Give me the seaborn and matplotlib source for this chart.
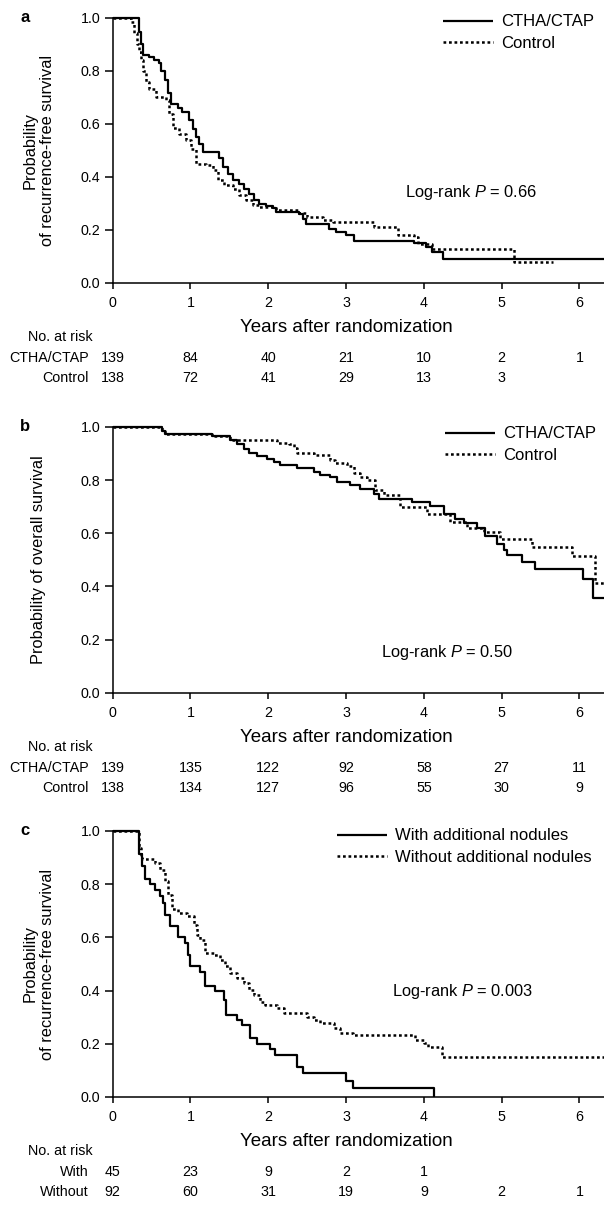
import numpy as np
import pandas as pd
import matplotlib
matplotlib.use("Agg")
import matplotlib.pyplot as plt
import seaborn as sns
from matplotlib.transforms import blended_transform_factory as btf

sns.set_theme(style="ticks", rc={"text.color": "black", "axes.labelcolor": "black",
                                 "xtick.color": "black", "ytick.color": "black",
                                 "axes.edgecolor": "black"})
plt.rcParams["font.family"] = ["Liberation Sans", "DejaVu Sans"]
plt.rcParams["mathtext.fontset"] = "custom"
plt.rcParams["mathtext.rm"] = "Liberation Sans"
plt.rcParams["mathtext.it"] = "Liberation Sans:italic"

# ---------------- data ----------------
years = [0, 1, 2, 3, 4, 5, 6]
yticks = [0.0, 0.2, 0.4, 0.6, 0.8, 1.0]

# panel a: recurrence-free survival
a_ctha_t = [0, 0.334, 0.364, 0.386, 0.471, 0.536, 0.591, 0.621, 0.673, 0.707, 0.75, 0.835, 0.891,
            0.977, 1.028, 1.071, 1.114, 1.165, 1.362, 1.414, 1.478, 1.542, 1.628, 1.692, 1.748,
            1.821, 1.877, 1.971, 2.057, 2.099, 2.399, 2.442, 2.485, 2.785, 2.871, 2.999, 3.106,
            3.878, 4.03, 4.11, 4.24, 6.32]
a_ctha_s = [1.0, 0.946, 0.90, 0.858, 0.85, 0.84, 0.827, 0.80, 0.764, 0.714, 0.676, 0.661, 0.645,
            0.613, 0.58, 0.55, 0.525, 0.494, 0.469, 0.437, 0.412, 0.387, 0.374, 0.355, 0.337,
            0.314, 0.299, 0.29, 0.283, 0.268, 0.261, 0.242, 0.224, 0.205, 0.192, 0.18, 0.16,
            0.151, 0.136, 0.117, 0.092, 0.092]
a_ctrl_t = [0, 0.236, 0.278, 0.308, 0.334, 0.364, 0.386, 0.428, 0.471, 0.557, 0.686, 0.728, 0.771,
            0.857, 0.943, 1.007, 1.071, 1.2, 1.285, 1.35, 1.435, 1.542, 1.628, 1.714, 1.8, 1.885,
            2.1, 2.4, 2.5, 2.7, 2.83, 3.364, 3.664, 3.878, 3.92, 4.11, 5.163, 5.655]
a_ctrl_s = [1.0, 0.984, 0.94, 0.902, 0.871, 0.84, 0.80, 0.758, 0.732, 0.70, 0.688, 0.638, 0.582,
            0.563, 0.538, 0.506, 0.45, 0.443, 0.425, 0.387, 0.368, 0.355, 0.33, 0.312, 0.293, 0.288,
            0.275, 0.262, 0.249, 0.236, 0.228, 0.211, 0.18, 0.173, 0.148, 0.129, 0.079, 0.079]

# panel b: overall survival
b_ctha_t = [0, 0.634, 0.677, 1.277, 1.513, 1.599, 1.685, 1.749, 1.856, 1.985, 2.07, 2.156, 2.37,
            2.585, 2.67, 2.799, 2.884, 3.056, 3.184, 3.355, 3.419, 3.847, 4.083, 4.254, 4.404,
            4.51, 4.682, 4.789, 4.938, 5.024, 5.067, 5.259, 5.43, 6.051, 6.179, 6.32]
b_ctha_s = [1.0, 0.985, 0.975, 0.966, 0.952, 0.937, 0.918, 0.902, 0.89, 0.881, 0.868, 0.856, 0.846,
            0.831, 0.818, 0.812, 0.793, 0.782, 0.768, 0.749, 0.728, 0.718, 0.702, 0.674, 0.655,
            0.637, 0.618, 0.589, 0.561, 0.536, 0.518, 0.492, 0.467, 0.427, 0.355, 0.355]
b_ctrl_t = [0, 0.634, 0.677, 1.277, 1.513, 2.113, 2.263, 2.33, 2.37, 2.585, 2.799, 2.863, 3.013,
            3.099, 3.185, 3.27, 3.377, 3.484, 3.697, 4.04, 4.34, 4.553, 4.767, 4.98, 5.388, 5.9,
            6.2, 6.32]
b_ctrl_s = [1.0, 0.985, 0.975, 0.966, 0.952, 0.94, 0.937, 0.92, 0.902, 0.893, 0.877, 0.865, 0.855,
            0.827, 0.812, 0.80, 0.762, 0.743, 0.699, 0.674, 0.643, 0.618, 0.605, 0.58, 0.549, 0.515,
            0.411, 0.411]

# panel c: recurrence-free survival by additional nodules
c_with_t = [0, 0.343, 0.373, 0.416, 0.481, 0.545, 0.609, 0.652, 0.674, 0.738, 0.845, 0.931, 0.974,
            0.996, 1.124, 1.189, 1.318, 1.425, 1.459, 1.597, 1.661, 1.768, 1.854, 2.026, 2.09,
            2.369, 2.44, 2.995, 3.09, 4.13]
c_with_s = [1.0, 0.912, 0.868, 0.818, 0.799, 0.78, 0.757, 0.73, 0.686, 0.644, 0.601, 0.579, 0.535,
            0.491, 0.469, 0.418, 0.40, 0.365, 0.308, 0.289, 0.27, 0.22, 0.201, 0.179, 0.157,
            0.113, 0.09, 0.06, 0.033, 0.0]
c_wo_t = [0, 0.343, 0.36, 0.373, 0.545, 0.609, 0.674, 0.717, 0.76, 0.845, 0.953, 1.039, 1.082, 1.124,
          1.189, 1.296, 1.382, 1.446, 1.511, 1.597, 1.682, 1.747, 1.811, 1.897, 1.961, 2.112, 2.197,
          2.498, 2.584, 2.67, 2.841, 2.92, 3.09, 3.886, 4.0, 4.05, 4.23, 6.32]
c_wo_s = [1.0, 0.937, 0.91, 0.896, 0.88, 0.855, 0.811, 0.761, 0.707, 0.692, 0.679, 0.648, 0.61, 0.591,
          0.541, 0.535, 0.516, 0.491, 0.465, 0.447, 0.428, 0.403, 0.384, 0.358, 0.346, 0.333, 0.317,
          0.299, 0.289, 0.277, 0.258, 0.24, 0.233, 0.215, 0.202, 0.187, 0.152, 0.152]

# numbers at risk
a_risk_ctha = [139, 84, 40, 21, 10, 2, 1]
a_risk_ctrl = [138, 72, 41, 29, 13, 3]
b_risk_ctha = [139, 135, 122, 92, 58, 27, 11]
b_risk_ctrl = [138, 134, 127, 96, 55, 30, 9]
c_risk_with = [45, 23, 9, 2, 1]
c_risk_wo = [92, 60, 31, 19, 9, 2, 1]

# ---------------- layout ----------------
W, H = 604, 1206
fig = plt.figure(figsize=(W / 100, H / 100), dpi=100)

def fy(py):
    return 1 - py / H

def fx(px):
    return px / W

X0 = 112.7
XMAX = 6.315

panels = [
    dict(letter="a", top=17.5, bottom=283,
         ylabel="Probability\nof recurrence-free survival",
         series=[("CTHA/CTAP", a_ctha_t, a_ctha_s), ("Control", a_ctrl_t, a_ctrl_s)],
         risk=[("CTHA/CTAP", a_risk_ctha), ("Control", a_risk_ctrl)],
         pval="0.66", ptxt=(4.61, 0.34),
         leg=(443, 14.5)),
    dict(letter="b", top=427, bottom=692.7,
         ylabel="Probability of overall survival",
         series=[("CTHA/CTAP", b_ctha_t, b_ctha_s), ("Control", b_ctrl_t, b_ctrl_s)],
         risk=[("CTHA/CTAP", b_risk_ctha), ("Control", b_risk_ctrl)],
         pval="0.50", ptxt=(4.3, 0.15),
         leg=(445, 426.5)),
    dict(letter="c", top=831, bottom=1097,
         ylabel="Probability\nof recurrence-free survival",
         series=[("With additional nodules", c_with_t, c_with_s),
                 ("Without additional nodules", c_wo_t, c_wo_s)],
         risk=[("With", c_risk_with), ("Without", c_risk_wo)],
         pval="0.003", ptxt=(4.5, 0.396),
         leg=(337, 828.5)),
]

for p in panels:
    ax = fig.add_axes([fx(X0), fy(p["bottom"]), 1 - fx(X0), (p["bottom"] - p["top"]) / H])
    rows = []
    for name, t, s in p["series"]:
        rows.append(pd.DataFrame({"time": t, "surv": s, "group": name}))
    df = pd.concat(rows, ignore_index=True)
    names = [n for n, _, _ in p["series"]]
    sns.lineplot(data=df, x="time", y="surv", hue="group", style="group",
                 hue_order=names, style_order=names,
                 palette={names[0]: "black", names[1]: "black"},
                 dashes={names[0]: "", names[1]: (1.1, 1.1)},
                 estimator=None, sort=False, drawstyle="steps-post",
                 linewidth=1.6, clip_on=False, legend=False, ax=ax)
    for line, n in zip(ax.lines, names):
        line.set_label(n)
        line.set_solid_capstyle("butt")
    ax.lines[1].set_linewidth(1.8)

    ax.set_xlim(0, XMAX)
    ax.set_ylim(0, 1)
    ax.set_xticks(years)
    ax.set_xticklabels([str(y) for y in years])
    ax.set_yticks(yticks)
    ax.set_yticklabels([f"{v:.1f}" for v in yticks])
    ax.set_xlabel("")
    ax.set_ylabel("")
    for side in ["top", "right"]:
        ax.spines[side].set_visible(False)
    for side in ["left", "bottom"]:
        ax.spines[side].set_linewidth(1.1)
        ax.spines[side].set_color("black")
    ax.tick_params(axis="x", direction="out", length=4, width=1.1, pad=5.5,
                   labelsize=10.3, colors="black")
    ax.tick_params(axis="y", direction="out", length=5.5, width=1.1, pad=3.5,
                   labelsize=10.3, colors="black")
    ax.patch.set_alpha(0)

    # legend
    lx, ly = p["leg"]
    ax.legend(loc="upper left", bbox_to_anchor=(fx(lx), fy(ly)),
              bbox_transform=fig.transFigure, frameon=False, fontsize=12,
              handlelength=3.0, handletextpad=0.5, labelspacing=0.4,
              borderpad=0, borderaxespad=0, labelcolor="black")

    # log-rank text
    ax.text(p["ptxt"][0], p["ptxt"][1], "Log-rank $P$ = " + p["pval"],
            ha="center", va="center", fontsize=11.8, color="black")

    # panel letter
    fig.text(fx(25), fy(p["top"] - 0.5), p["letter"], ha="center", va="center",
             fontsize=12, fontweight="bold", color="black")

    # y label
    fig.text(fx(39), fy((p["top"] + p["bottom"]) / 2), p["ylabel"], rotation=90,
             ha="center", va="center", fontsize=11.8, linespacing=1.15,
             multialignment="center", color="black")

    # x label and risk table
    tr = btf(ax.transData, fig.transFigure)
    base = p["bottom"]
    ax.text(3.0, fy(base + 45), "Years after randomization", transform=tr,
            ha="center", va="center", fontsize=13.5, color="black")
    fig.text(fx(60), fy(base + 54), "No. at risk", ha="center", va="center",
             fontsize=10.3, color="black")
    for k, (lab, vals) in enumerate(p["risk"]):
        py = base + 75 + 20 * k
        fig.text(fx(89), fy(py), lab, ha="right", va="center", fontsize=10.3, color="black")
        for yr, v in zip(years, vals):
            ax.text(yr, fy(py), str(v), transform=tr, ha="center", va="center",
                    fontsize=10.3, color="black")

fig.savefig("out.png", dpi=100, facecolor="white")
